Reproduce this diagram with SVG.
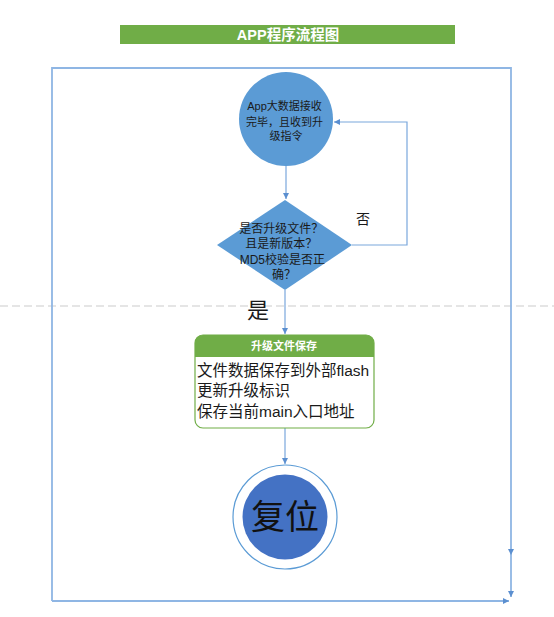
<svg xmlns="http://www.w3.org/2000/svg" width="554" height="617" viewBox="0 0 554 617">
<style>
.cn{font-family:"Liberation Sans","Noto Sans CJK SC",sans-serif;}
.conn{fill:none;stroke:#7aa7dc;stroke-width:1.2;}
.frame{fill:none;stroke:#8fb6e4;stroke-width:1.8;}
</style>
<defs>
<marker id="ah" markerWidth="8" markerHeight="8" refX="6" refY="3.5" orient="auto" markerUnits="userSpaceOnUse">
<path d="M0,0.5 L6,3.5 L0,6.5 Z" fill="#5b8fd0"/>
</marker>
</defs>
<rect width="554" height="617" fill="#ffffff"/>
<line x1="0" y1="306" x2="554" y2="306" stroke="#cccccc" stroke-width="1.2" stroke-dasharray="8,4"/>
<g id="title">
<rect x="120" y="25" width="335" height="19" fill="#70ad47"/>
<text x="288" y="40" class="cn" font-size="14.5" font-weight="bold" fill="#ffffff" text-anchor="middle">APP程序流程图</text>
</g>
<g id="connectors">
<path class="frame" d="M52,601 L52,68 L511,68 L511,555" marker-end="url(#ah)"/>
<path class="frame" d="M511,555 L511,597" marker-end="url(#ah)"/>
<path class="frame" d="M52,601 L509,601" marker-end="url(#ah)"/>
<path class="conn" d="M286,166 L286,199" marker-end="url(#ah)"/>
<path class="conn" d="M352,245 L407,245 L407,122 L334,122" marker-end="url(#ah)"/>
<path class="conn" d="M285,290 L285,334" marker-end="url(#ah)"/>
<path class="conn" d="M285,428 L285,464" marker-end="url(#ah)"/>
</g>
<g id="start">
<circle cx="286" cy="119" r="47" fill="#5b9bd5"/>
<text class="cn" font-size="11" fill="#1a1a1a" text-anchor="middle">
<tspan x="286" y="110">App大数据接收</tspan>
<tspan x="286" y="126">完毕，且收到升</tspan>
<tspan x="286" y="140">级指令</tspan>
</text>
</g>
<g id="decision">
<polygon points="285,200 352,245 285,290 217,245" fill="#5b9bd5"/>
<text class="cn" font-size="12" fill="#1a1a1a" text-anchor="middle">
<tspan x="283" y="233">是否升级文件？</tspan>
<tspan x="283" y="248">且是新版本？</tspan>
<tspan x="284" y="264">MD5校验是否正</tspan>
<tspan x="284" y="279">确？</tspan>
</text>
</g>
<text x="363" y="224" class="cn" font-size="14" fill="#1a1a1a" text-anchor="middle">否</text>
<text x="258" y="318" class="cn" font-size="22" fill="#1a1a1a" text-anchor="middle">是</text>
<g id="save">
<rect x="195" y="335" width="179" height="93" rx="8" fill="#ffffff" stroke="#70ad47" stroke-width="1.2"/>
<path d="M195,357 L195,343 A8,8 0 0 1 203,335 L366,335 A8,8 0 0 1 374,343 L374,357 Z" fill="#70ad47"/>
<text x="284" y="350" class="cn" font-size="11" font-weight="bold" fill="#ffffff" text-anchor="middle">升级文件保存</text>
<text class="cn" font-size="15.5" fill="#1a1a1a">
<tspan x="197" y="376">文件数据保存到外部flash</tspan>
<tspan x="197" y="396">更新升级标识</tspan>
<tspan x="197" y="417">保存当前main入口地址</tspan>
</text>
</g>
<g id="reset">
<circle cx="285" cy="517" r="52" fill="#ffffff" stroke="#5b9bd5" stroke-width="1.2"/>
<circle cx="285" cy="517" r="42.5" fill="#4472c4"/>
<text x="285" y="529" class="cn" font-size="34" fill="#111111" text-anchor="middle">复位</text>
</g>
</svg>
